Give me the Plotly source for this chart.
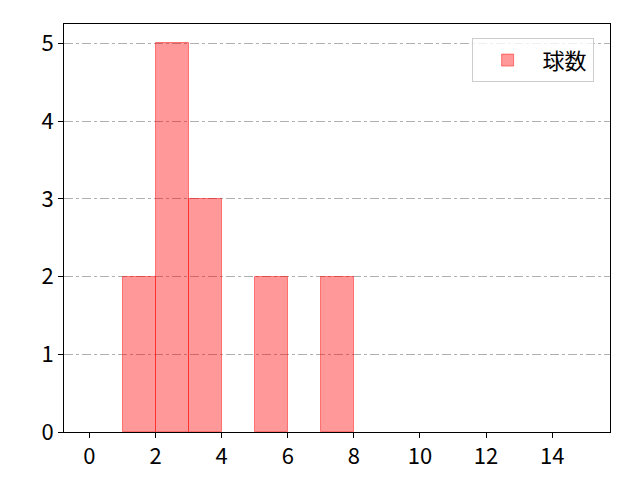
import plotly.graph_objects as go

# histogram bins (left edges) and counts
bin_left = [1, 2, 3, 5, 7]
counts = [2, 5, 3, 2, 2]
series_name = '球数'
x_ticks = [0, 2, 4, 6, 8, 10, 12, 14]
y_ticks = [0, 1, 2, 3, 4, 5]

centers = [b + 0.5 for b in bin_left]

fig = go.Figure()
fig.add_trace(go.Bar(
    x=centers, y=counts, width=1,
    name=series_name,
    marker=dict(color='rgba(255,0,0,0.4)', line=dict(color='rgba(255,0,0,0.45)', width=1)),
    showlegend=True,
))

axis_common = dict(
    showline=True, linecolor='black', linewidth=1, mirror=True,
    ticks='outside', ticklen=5, tickcolor='black',
    tickfont=dict(size=22, color='black'),
    zeroline=False,
)

fig.update_xaxes(range=[-0.77, 15.75], tickvals=x_ticks, showgrid=False, **axis_common)
fig.update_yaxes(range=[0, 5.25], tickvals=y_ticks, showgrid=True,
                 gridcolor='#b0b0b0', griddash='dashdot', gridwidth=1, **axis_common)

# page body adds 8px offset, so margins are shifted to compensate
fig.update_layout(
    width=640, height=480,
    margin=dict(l=56, r=38, t=16, b=56),
    plot_bgcolor='white', paper_bgcolor='white',
    font=dict(family='Noto Sans CJK JP', color='black'),
    bargap=0,
    legend=dict(x=0.97, y=0.965, xanchor='right', yanchor='top',
                bordercolor='#cccccc', borderwidth=1, bgcolor='rgba(255,255,255,0.8)',
                font=dict(size=22), itemwidth=60),
)

fig.write_html("out.html")
